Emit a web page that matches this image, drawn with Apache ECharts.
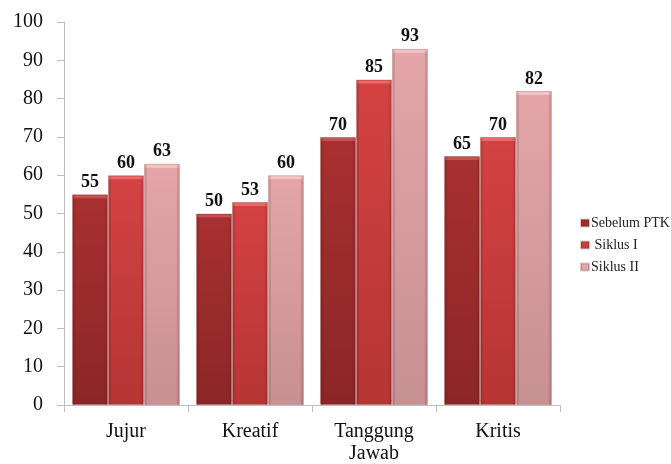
<!DOCTYPE html>
<html>
<head>
<meta charset="utf-8">
<script src="https://cdn.jsdelivr.net/npm/echarts@6/dist/echarts.min.js"></script>
<style>
  html, body { margin: 0; padding: 0; background: #fff; }
  #chart { width: 671px; height: 464px; }
</style>
</head>
<body>
<div id="chart"></div>
<script>
// Aspect categories and the scores for each stage
const categories = ['Jujur', 'Kreatif', 'Tanggung Jawab', 'Kritis'];
const seriesNames = ['Sebelum PTK', ' Siklus I', 'Siklus II'];
const sebelumPTK = [55, 50, 70, 65];
const siklusI = [60, 53, 85, 70];
const siklusII = [63, 60, 93, 82];
const yTicks = { min: 0, max: 100, interval: 10 };

const serif = '"Liberation Serif", serif';
const CAT_GAP = 0.13;

// shades for each series: bevel highlight, top, bottom, legend swatch
const palettes = [
  { hi: '#c85a5a', top: '#a83030', bottom: '#8c2626', legend: '#a02c2c' },
  { hi: '#ea7070', top: '#d44242', bottom: '#b63535', legend: '#cc3c3c' },
  { hi: '#f5c8ca', top: '#e4a6a8', bottom: '#c79093', legend: '#deaaac' }
];

function barStyle(p) {
  return {
    color: new echarts.graphic.LinearGradient(0, 0, 0, 1, [
      { offset: 0, color: p.top },
      { offset: 1, color: p.bottom }
    ]),
    borderColor: 'rgba(90,20,20,0.22)',
    borderWidth: 1
  };
}

const seriesData = [sebelumPTK, siklusI, siklusII];

// thin bevel strip along the top of each bar, plus darker side edges
function bevelSeries(i) {
  return {
    type: 'custom',
    silent: true,
    z: 3,
    data: seriesData[i].map((v, k) => [k, v]),
    renderItem(params, api) {
      const cat = api.value(0);
      const val = api.value(1);
      const top = api.coord([cat, val]);
      const base = api.coord([cat, 0]);
      const catW = api.size([1, 0])[0];
      const bw = catW * (1 - CAT_GAP) / 3;
      const x0 = top[0] - catW * (1 - CAT_GAP) / 2 + bw * i;
      const p = palettes[i];
      return {
        type: 'group',
        children: [
          { type: 'rect', shape: { x: x0 + 1, y: top[1] + 1, width: bw - 2, height: 3 },
            style: { fill: p.hi, opacity: 0.85 } },
          { type: 'rect', shape: { x: x0 + 1, y: top[1] + 1, width: 2, height: base[1] - top[1] - 1 },
            style: { fill: 'rgba(60,10,10,0.12)' } },
          { type: 'rect', shape: { x: x0 + bw - 3, y: top[1] + 1, width: 2, height: base[1] - top[1] - 1 },
            style: { fill: 'rgba(60,10,10,0.12)' } }
        ]
      };
    }
  };
}

const chart = echarts.init(document.getElementById('chart'), null, { renderer: 'canvas' });
chart.setOption({
  animation: false,
  textStyle: { fontFamily: serif },
  grid: { left: 64, right: 111, top: 22, bottom: 56, containLabel: false },
  legend: {
    orient: 'vertical',
    left: 575,
    top: 211,
    itemWidth: 8,
    itemHeight: 7,
    itemGap: 8,
    icon: 'rect',
    textStyle: { fontFamily: serif, fontSize: 14, color: '#222', lineHeight: 14, padding: [0, 0, 0, -3] },
    data: seriesNames.map((n, i) => ({ name: n, itemStyle: { color: palettes[i].legend } }))
  },
  xAxis: {
    type: 'category',
    data: categories,
    axisLine: { lineStyle: { color: '#bfbfbf', width: 1 } },
    axisTick: { show: true, length: 7, lineStyle: { color: '#bfbfbf' } },
    axisLabel: {
      margin: 16,
      interval: 0,
      formatter: v => v.split(' ').map(w => '{c|' + w + '}').join('\n'),
      rich: {
        c: { fontFamily: serif, fontSize: 20, color: '#111', lineHeight: 22 }
      }
    }
  },
  yAxis: {
    type: 'value',
    min: yTicks.min, max: yTicks.max, interval: yTicks.interval,
    axisLine: { show: true, lineStyle: { color: '#bfbfbf', width: 1 } },
    axisTick: { show: true, length: 7, lineStyle: { color: '#bfbfbf' } },
    splitLine: { show: false },
    axisLabel: { fontFamily: serif, fontSize: 20, color: '#111', margin: 21 }
  },
  series: seriesData.map((d, i) => ({
    name: seriesNames[i],
    type: 'bar',
    data: d,
    barGap: '0%',
    barCategoryGap: (CAT_GAP * 100) + '%',
    itemStyle: barStyle(palettes[i]),
    label: {
      show: true, position: 'top', distance: 3,
      fontFamily: serif, fontSize: 18, fontWeight: 'bold', color: '#111'
    }
  })).concat([0, 1, 2].map(bevelSeries))
});
</script>
</body>
</html>
